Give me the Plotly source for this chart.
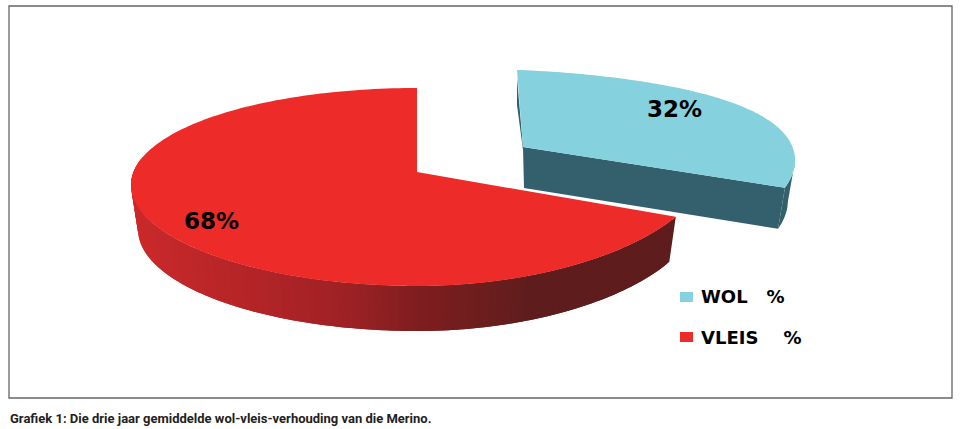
import numpy as np
import plotly.graph_objects as go

categories = ["WOL", "VLEIS"]
values = [32, 68]
value_labels = ["32%", "68%"]
legend_labels = ["WOL\u00a0\u00a0\u00a0%", "VLEIS\u00a0\u00a0\u00a0\u00a0%"]
caption = "Grafiek 1: Die drie jaar gemiddelde wol-vleis-verhouding van die Merino."

BLUE_TOP, BLUE_WALL = "#85d1dd", "#33606c"
RED_TOP = "#ed2b29"

fracs = [v / sum(values) for v in values]
split = 2 * np.pi * fracs[0]


def blue_arc(t):
    # perspective drawing of the pulled-out slice
    tw = t * 0.917
    c, s = np.cos(tw), np.sin(tw)
    return 523 + 272 * s, 147 - 99 * c + 22 * c * c + 13 * s


def red_arc(t):
    c, s = np.cos(t), np.sin(t)
    return 417 + 286 * s, 172 - 99 * c + 15 * c * c + np.where(s < 0, 13 * s * s, 0)


def red_lower(t):
    x, y = red_arc(t)
    return 417 + 0.975 * (x - 417), y + 45


def blue_lower(t):
    x, y = blue_arc(t)
    return 524 + 0.97 * (x - 523), y + 41


def poly(x, y, color, name):
    return go.Scatter(x=x, y=y, mode="none", fill="toself", fillcolor=color,
                      hoverinfo="skip", showlegend=False, name=name)


def shade(t):
    # red wall gradient, keyed on horizontal position
    x = red_arc(t)[0]
    stops_x = [131, 250, 340, 420, 530, 680]
    r = np.interp(x, stops_x, [0xcb, 0xb4, 0xa0, 0x7f, 0x60, 0x5e])
    g = np.interp(x, stops_x, [0x2a, 0x25, 0x22, 0x1e, 0x1d, 0x1c])
    b = np.interp(x, stops_x, [0x2b, 0x28, 0x25, 0x20, 0x1d, 0x1c])
    return f"rgb({int(r)},{int(g)},{int(b)})"


fig = go.Figure()

# red wall, as overlapping gradient strips
edges = np.linspace(split, np.radians(285), 110)
step = edges[1] - edges[0]
for a in edges[:-1]:
    ts = np.linspace(a, a + 2 * step, 4)
    xu, yu = red_arc(ts)
    xl, yl = red_lower(ts)
    fig.add_trace(poly(np.r_[xu, xl[::-1]], np.r_[yu, yl[::-1]], shade(a + step / 2), "VLEIS wall"))

# red top
ts = np.linspace(split, 2 * np.pi, 200)
xa, ya = red_arc(ts)
fig.add_trace(poly(np.r_[417, xa, 417], np.r_[172, ya, 172], RED_TOP, categories[1]))

# blue walls
ts = np.linspace(0, split, 120)
xa, ya = blue_arc(ts)
xl, yl = blue_lower(ts)
vis = ts > np.radians(90 / 0.917)
fig.add_trace(poly(np.r_[523, xa[-1], xl[-1], 524], np.r_[147, ya[-1], yl[-1], 188], BLUE_WALL, "WOL front wall"))
fig.add_trace(poly(np.r_[xa[vis], xl[vis][::-1]], np.r_[ya[vis], yl[vis][::-1]], BLUE_WALL, "WOL outer wall"))
fig.add_trace(poly([517, 517, 523, 523], [78, 105, 150, 147], BLUE_WALL, "WOL left wall"))

# blue top
fig.add_trace(poly(np.r_[523, xa[0] - 6, xa, 523], np.r_[147, ya[0], ya, 147], BLUE_TOP, categories[0]))

bold = lambda s: f"<b>{s}</b>"
annotations = [
    dict(x=674.5, y=108.5, text=bold(value_labels[0]), showarrow=False, xanchor="center", yanchor="middle",
         font=dict(family="DejaVu Sans", size=23, color="#000")),
    dict(x=211.5, y=221, text=bold(value_labels[1]), showarrow=False, xanchor="center", yanchor="middle",
         font=dict(family="DejaVu Sans", size=23, color="#000")),
    dict(x=699, y=296.5, text=bold(legend_labels[0]), showarrow=False, xanchor="left", yanchor="middle",
         font=dict(family="DejaVu Sans", size=18, color="#000")),
    dict(x=699, y=337, text=bold(legend_labels[1]), showarrow=False, xanchor="left", yanchor="middle",
         font=dict(family="DejaVu Sans", size=18, color="#000")),
    dict(x=8, y=418, text=bold(caption), showarrow=False, xanchor="left", yanchor="middle",
         font=dict(family="Roboto", size=13, color="#222")),
]

shapes = [
    dict(type="rect", x0=9, x1=952, y0=6, y1=398, line=dict(color="#666", width=1.3)),
    dict(type="rect", x0=680, x1=693, y0=292, y1=302, fillcolor=BLUE_TOP, line=dict(width=0)),
    dict(type="rect", x0=680, x1=693, y0=332, y1=342, fillcolor=RED_TOP, line=dict(width=0)),
]

fig.update_layout(
    width=960, height=429, margin=dict(l=0, r=0, t=0, b=0),
    paper_bgcolor="white", plot_bgcolor="white", showlegend=False,
    xaxis=dict(range=[0, 960], visible=False, fixedrange=True),
    yaxis=dict(range=[429, 0], visible=False, fixedrange=True),
    annotations=annotations, shapes=shapes,
)
fig.write_html("out.html", config={"displayModeBar": False},
               post_script="document.body.style.margin='0';document.documentElement.style.overflow='hidden';")
